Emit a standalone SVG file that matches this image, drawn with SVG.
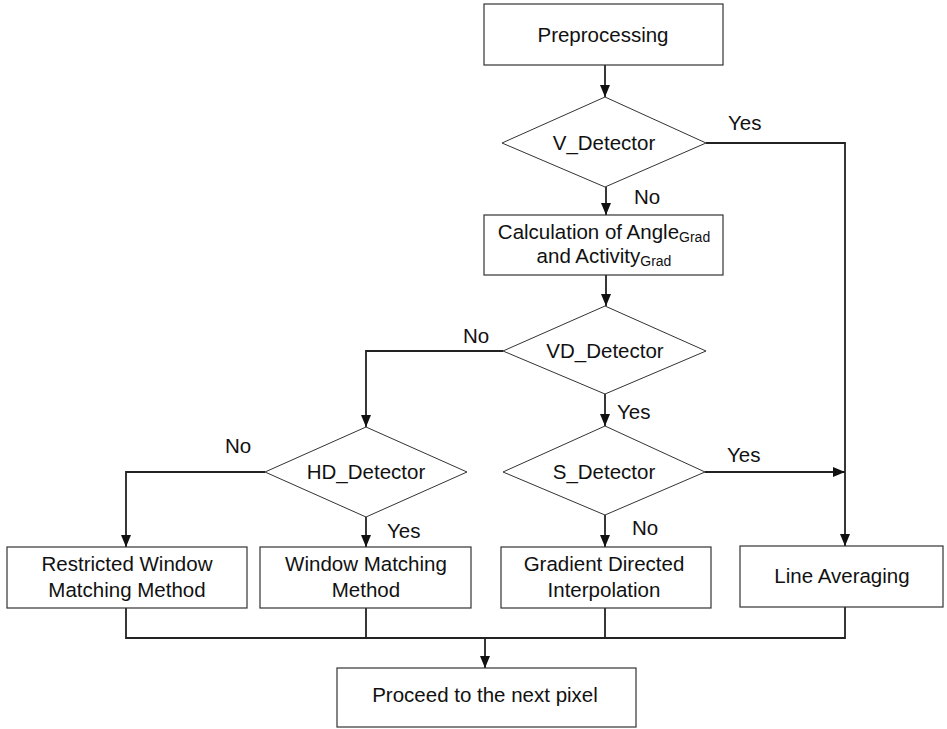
<svg xmlns="http://www.w3.org/2000/svg" width="947" height="729" viewBox="0 0 947 729">
<defs>
<style>
.box{fill:#fff;stroke:#333;stroke-width:1.2}
.dia{fill:#fff;stroke:#333;stroke-width:1}
.t{font-family:"Liberation Sans",Arial,sans-serif;font-size:20.5px;fill:#111;text-anchor:middle}
.lbl{font-family:"Liberation Sans",Arial,sans-serif;font-size:20.5px;fill:#111}
.sub{font-size:14px}
.c{fill:none;stroke:#222;stroke-width:1.8}
</style>
<marker id="ah" viewBox="0 0 12 10" refX="12" refY="5" markerWidth="12" markerHeight="10" markerUnits="userSpaceOnUse" orient="auto">
<path d="M0,0 L12,5 L0,10 Z" fill="#111"/>
</marker>
</defs>
<rect width="947" height="729" fill="#fff"/>
<g id="connectors">
<path class="c" d="M605,65 V97" marker-end="url(#ah)"/>
<path class="c" d="M606,187 V215" marker-end="url(#ah)"/>
<path class="c" d="M606,275 V306" marker-end="url(#ah)"/>
<path class="c" d="M605,394 V426" marker-end="url(#ah)"/>
<path class="c" d="M503,351 H366 V427" marker-end="url(#ah)"/>
<path class="c" d="M706,143 H845 V546" marker-end="url(#ah)"/>
<path class="c" d="M705,472 H845" marker-end="url(#ah)"/>
<path class="c" d="M265,472 H126 V547" marker-end="url(#ah)"/>
<path class="c" d="M366,517 V547" marker-end="url(#ah)"/>
<path class="c" d="M605,515 V547" marker-end="url(#ah)"/>
<path class="c" d="M126,608 V638 H845 V607 M366,608 V638 M605,608 V638"/>
<path class="c" d="M485,638 V668" marker-end="url(#ah)"/>
<text class="lbl" x="728" y="130">Yes</text>
<text class="lbl" x="634" y="204">No</text>
<text class="lbl" x="463" y="343">No</text>
<text class="lbl" x="617" y="419">Yes</text>
<text class="lbl" x="727" y="462">Yes</text>
<text class="lbl" x="225" y="453">No</text>
<text class="lbl" x="387" y="538">Yes</text>
<text class="lbl" x="632" y="535">No</text>
</g>
<g id="preprocessing">
<rect class="box" x="484" y="4" width="239" height="61"/>
<text class="t" x="603" y="42">Preprocessing</text>
</g>
<g id="v_detector">
<polygon class="dia" points="605,97 706,143 605,187 502,143"/>
<text class="t" x="604" y="150">V_Detector</text>
</g>
<g id="calculation">
<rect class="box" x="484" y="215" width="239" height="60"/>
<text class="t" x="604" y="239">Calculation of Angle<tspan class="sub" dy="3">Grad</tspan></text>
<text class="t" x="604" y="263">and Activity<tspan class="sub" dy="3">Grad</tspan></text>
</g>
<g id="vd_detector">
<polygon class="dia" points="605,306 706,351 605,394 503,351"/>
<text class="t" x="605" y="358">VD_Detector</text>
</g>
<g id="hd_detector">
<polygon class="dia" points="366,427 467,472 366,517 265,472"/>
<text class="t" x="366" y="479">HD_Detector</text>
</g>
<g id="s_detector">
<polygon class="dia" points="605,426 705,472 605,515 503,472"/>
<text class="t" x="604" y="479">S_Detector</text>
</g>
<g id="restricted_window">
<rect class="box" x="7" y="547" width="240" height="61"/>
<text class="t" x="127" y="571">Restricted Window</text>
<text class="t" x="127" y="597">Matching Method</text>
</g>
<g id="window_matching">
<rect class="box" x="260" y="547" width="211" height="61"/>
<text class="t" x="366" y="571">Window Matching</text>
<text class="t" x="366" y="597">Method</text>
</g>
<g id="gradient_directed">
<rect class="box" x="501" y="547" width="210" height="61"/>
<text class="t" x="604" y="571">Gradient Directed</text>
<text class="t" x="604" y="597">Interpolation</text>
</g>
<g id="line_averaging">
<rect class="box" x="740" y="546" width="203" height="61"/>
<text class="t" x="842" y="583">Line Averaging</text>
</g>
<g id="proceed">
<rect class="box" x="337" y="668" width="299" height="59"/>
<text class="t" x="485" y="702">Proceed to the next pixel</text>
</g>
</svg>
